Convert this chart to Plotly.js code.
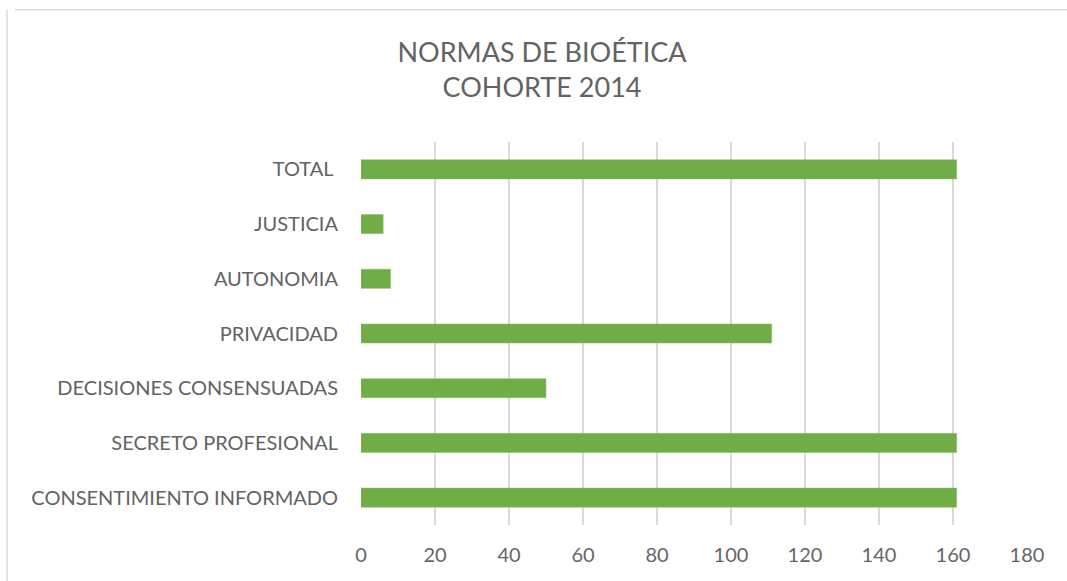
<!DOCTYPE html>
<html>
<head>
<meta charset="utf-8">
<script src="https://cdn.plot.ly/plotly-3.0.1.min.js"></script>
<style>
html,body{margin:0;padding:0;background:#fff;}
#chart{width:1067px;height:581px;}
</style>
</head>
<body>
<div id="chart"></div>
<script>
const categories = ["CONSENTIMIENTO INFORMADO", "SECRETO PROFESIONAL", "DECISIONES CONSENSUADAS", "PRIVACIDAD", "AUTONOMIA", "JUSTICIA", "TOTAL "];
const values = [161, 161, 50, 111, 8, 6, 161];
const xTicks = [0, 20, 40, 60, 80, 100, 120, 140, 160, 180];

const fontFam = "Lato, 'Open Sans', sans-serif";
const trace = {
  type: "bar",
  orientation: "h",
  x: values,
  y: categories,
  marker: {color: "#70ad47", line: {color: "#8cc06a", width: 0.5}},
  hoverinfo: "x+y"
};
const layout = {
  width: 1067, height: 581,
  margin: {l: 361, r: 40, t: 142, b: 56, pad: 0},
  paper_bgcolor: "#ffffff",
  plot_bgcolor: "#ffffff",
  bargap: 0.65,
  showlegend: false,
  title: {
    text: "NORMAS DE BIOÉTICA<br>COHORTE 2014",
    font: {family: fontFam, size: 27, color: "#636363", lineposition: "none"},
    x: 0.508, xref: "container", xanchor: "center",
    y: 0.893, yref: "container", yanchor: "middle"
  },
  xaxis: {
    range: [0, 180],
    tickvals: xTicks,
    ticktext: xTicks.map(String),
    showgrid: true, gridcolor: "#d9d9d9", gridwidth: 1.5,
    zeroline: false, showline: false,
    ticks: "", ticklabelstandoff: 16,
    tickfont: {family: fontFam, size: 20, color: "#666666"},
    fixedrange: true
  },
  yaxis: {
    type: "category",
    categoryorder: "array", categoryarray: categories,
    showgrid: false, zeroline: false, showline: false,
    ticks: "", ticklabelstandoff: 22,
    tickfont: {family: fontFam, size: 20, color: "#636363"},
    fixedrange: true
  },
  shapes: [
    {type: "line", xref: "paper", yref: "paper", x0: -346/666, x1: 1.06, y0: 1 + 132/382.4, y1: 1 + 132/382.4, line: {color: "#d9d9d9", width: 1.5}},
    {type: "line", xref: "paper", yref: "paper", x0: -354/666, x1: -354/666, y0: -0.2, y1: 1 + 132/382.4, line: {color: "#d9d9d9", width: 1.5}}
  ]
};
Plotly.newPlot("chart", [trace], layout, {displayModeBar: false, staticPlot: false});
</script>
</body>
</html>
